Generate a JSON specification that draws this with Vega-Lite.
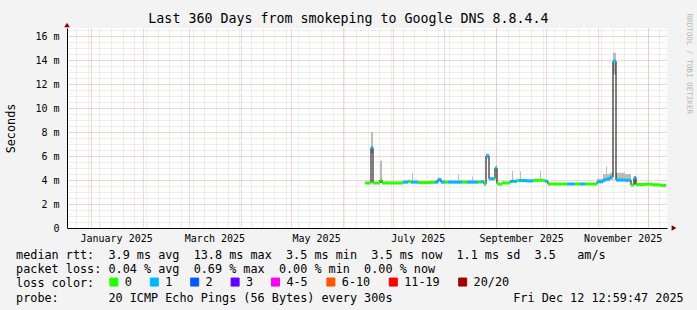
{
  "$schema": "https://vega.github.io/schema/vega-lite/v6.json",
  "width": 600,
  "height": 200,
  "autosize": {"type": "none"},
  "padding": {"left": 67, "top": 28, "right": 30, "bottom": 82},
  "background": "#f3f3f3",
  "config": {
    "view": {"fill": "#ffffff", "stroke": null},
    "font": "DejaVu Sans Mono",
    "axis": {"labelFont": "DejaVu Sans Mono", "titleFont": "DejaVu Sans Mono", "labelColor": "#000000", "titleColor": "#000000", "titleFontWeight": "normal"}
  },
  "title": {
    "text": "Last 360 Days from smokeping to Google DNS 8.8.4.4",
    "font": "DejaVu Sans Mono",
    "fontSize": 13.3,
    "fontWeight": "normal",
    "color": "#000000",
    "anchor": "middle",
    "frame": "group",
    "baseline": "alphabetic",
    "dx": -18.5,
    "offset": -23
  },
  "data": {
    "values": [
      {"t": "2025-06-14T08:12", "t2": "2025-06-17T22:36", "med": 3.75, "lo": 3.70, "hi": 3.85, "loss": "0"},
      {"t": "2025-06-17T22:36", "t2": "2025-06-19T03:24", "med": 6.70, "lo": 6.20, "hi": 8.00, "loss": "1"},
      {"t": "2025-06-19T03:24", "t2": "2025-06-23T08:12", "med": 3.75, "lo": 3.70, "hi": 3.85, "loss": "0"},
      {"t": "2025-06-23T08:12", "t2": "2025-06-24T13:00", "med": 4.00, "lo": 3.80, "hi": 5.60, "loss": "0"},
      {"t": "2025-06-24T13:00", "t2": "2025-07-07T03:24", "med": 3.75, "lo": 3.70, "hi": 3.85, "loss": "0"},
      {"t": "2025-07-07T03:24", "t2": "2025-07-10T03:24", "med": 3.82, "lo": 3.75, "hi": 3.95, "loss": "1"},
      {"t": "2025-07-10T03:24", "t2": "2025-07-11T22:36", "med": 3.88, "lo": 3.78, "hi": 3.95, "loss": "0"},
      {"t": "2025-07-11T22:36", "t2": "2025-07-12T13:00", "med": 3.82, "lo": 3.75, "hi": 3.95, "loss": "1"},
      {"t": "2025-07-12T13:00", "t2": "2025-07-13T03:24", "med": 3.82, "lo": 3.75, "hi": 4.60, "loss": "1"},
      {"t": "2025-07-13T03:24", "t2": "2025-07-16T03:24", "med": 3.82, "lo": 3.75, "hi": 3.95, "loss": "1"},
      {"t": "2025-07-16T03:24", "t2": "2025-07-23T08:12", "med": 3.78, "lo": 3.70, "hi": 3.90, "loss": "0"},
      {"t": "2025-07-23T08:12", "t2": "2025-07-26T08:12", "med": 3.80, "lo": 3.72, "hi": 3.90, "loss": "0"},
      {"t": "2025-07-26T08:12", "t2": "2025-07-28T03:24", "med": 3.82, "lo": 3.75, "hi": 3.95, "loss": "1"},
      {"t": "2025-07-28T03:24", "t2": "2025-07-29T22:36", "med": 4.05, "lo": 3.85, "hi": 4.15, "loss": "1"},
      {"t": "2025-07-29T22:36", "t2": "2025-08-01T08:12", "med": 3.82, "lo": 3.75, "hi": 3.95, "loss": "1"},
      {"t": "2025-08-01T08:12", "t2": "2025-08-03T03:24", "med": 3.82, "lo": 3.75, "hi": 3.95, "loss": "0"},
      {"t": "2025-08-03T03:24", "t2": "2025-08-09T03:24", "med": 3.82, "lo": 3.75, "hi": 3.95, "loss": "1"},
      {"t": "2025-08-09T03:24", "t2": "2025-08-09T17:48", "med": 3.82, "lo": 3.75, "hi": 4.50, "loss": "1"},
      {"t": "2025-08-09T17:48", "t2": "2025-08-11T13:00", "med": 3.82, "lo": 3.75, "hi": 3.95, "loss": "1"},
      {"t": "2025-08-11T13:00", "t2": "2025-08-14T13:00", "med": 3.82, "lo": 3.75, "hi": 3.95, "loss": "0"},
      {"t": "2025-08-14T13:00", "t2": "2025-08-17T13:00", "med": 3.82, "lo": 3.75, "hi": 3.95, "loss": "1"},
      {"t": "2025-08-17T13:00", "t2": "2025-08-18T03:24", "med": 3.82, "lo": 3.75, "hi": 4.30, "loss": "1"},
      {"t": "2025-08-18T03:24", "t2": "2025-08-21T03:24", "med": 3.82, "lo": 3.75, "hi": 3.95, "loss": "1"},
      {"t": "2025-08-21T03:24", "t2": "2025-08-22T22:36", "med": 3.82, "lo": 3.75, "hi": 3.95, "loss": "0"},
      {"t": "2025-08-22T22:36", "t2": "2025-08-24T17:48", "med": 3.85, "lo": 3.78, "hi": 3.95, "loss": "1"},
      {"t": "2025-08-24T17:48", "t2": "2025-08-25T22:36", "med": 3.65, "lo": 3.60, "hi": 3.75, "loss": "0"},
      {"t": "2025-08-25T22:36", "t2": "2025-08-27T17:48", "med": 6.00, "lo": 5.80, "hi": 6.20, "loss": "1"},
      {"t": "2025-08-27T17:48", "t2": "2025-08-30T17:48", "med": 4.10, "lo": 4.00, "hi": 4.20, "loss": "1"},
      {"t": "2025-08-30T17:48", "t2": "2025-08-31T08:12", "med": 4.10, "lo": 4.00, "hi": 4.20, "loss": "0"},
      {"t": "2025-08-31T08:12", "t2": "2025-09-01T13:00", "med": 5.00, "lo": 4.80, "hi": 5.10, "loss": "1"},
      {"t": "2025-09-01T13:00", "t2": "2025-09-02T17:48", "med": 3.72, "lo": 3.65, "hi": 3.80, "loss": "0"},
      {"t": "2025-09-02T17:48", "t2": "2025-09-04T13:00", "med": 3.65, "lo": 3.60, "hi": 3.75, "loss": "0"},
      {"t": "2025-09-04T13:00", "t2": "2025-09-09T08:12", "med": 3.75, "lo": 3.70, "hi": 3.85, "loss": "0"},
      {"t": "2025-09-09T08:12", "t2": "2025-09-10T13:00", "med": 3.88, "lo": 3.80, "hi": 4.00, "loss": "1"},
      {"t": "2025-09-10T13:00", "t2": "2025-09-11T03:24", "med": 3.90, "lo": 3.80, "hi": 4.75, "loss": "1"},
      {"t": "2025-09-11T03:24", "t2": "2025-09-13T13:00", "med": 3.90, "lo": 3.80, "hi": 4.00, "loss": "1"},
      {"t": "2025-09-13T13:00", "t2": "2025-09-14T17:48", "med": 3.95, "lo": 3.85, "hi": 4.05, "loss": "0"},
      {"t": "2025-09-14T17:48", "t2": "2025-09-15T08:12", "med": 3.95, "lo": 3.85, "hi": 4.05, "loss": "1"},
      {"t": "2025-09-15T08:12", "t2": "2025-09-15T22:36", "med": 3.95, "lo": 3.85, "hi": 4.70, "loss": "1"},
      {"t": "2025-09-15T22:36", "t2": "2025-09-19T13:00", "med": 3.95, "lo": 3.85, "hi": 4.05, "loss": "1"},
      {"t": "2025-09-19T13:00", "t2": "2025-09-23T03:24", "med": 3.92, "lo": 3.85, "hi": 4.05, "loss": "1"},
      {"t": "2025-09-23T03:24", "t2": "2025-09-27T08:12", "med": 3.97, "lo": 3.90, "hi": 4.05, "loss": "0"},
      {"t": "2025-09-27T08:12", "t2": "2025-09-27T22:36", "med": 3.97, "lo": 3.90, "hi": 4.80, "loss": "0"},
      {"t": "2025-09-27T22:36", "t2": "2025-09-30T08:12", "med": 3.97, "lo": 3.90, "hi": 4.05, "loss": "0"},
      {"t": "2025-09-30T08:12", "t2": "2025-10-02T03:24", "med": 3.90, "lo": 3.82, "hi": 4.00, "loss": "1"},
      {"t": "2025-10-02T03:24", "t2": "2025-10-13T13:00", "med": 3.67, "lo": 3.62, "hi": 3.75, "loss": "0"},
      {"t": "2025-10-13T13:00", "t2": "2025-10-18T08:12", "med": 3.67, "lo": 3.62, "hi": 3.75, "loss": "1"},
      {"t": "2025-10-18T08:12", "t2": "2025-10-21T08:12", "med": 3.67, "lo": 3.62, "hi": 3.75, "loss": "0"},
      {"t": "2025-10-21T08:12", "t2": "2025-10-24T08:12", "med": 3.67, "lo": 3.62, "hi": 3.75, "loss": "1"},
      {"t": "2025-10-24T08:12", "t2": "2025-10-31T13:00", "med": 3.67, "lo": 3.62, "hi": 3.75, "loss": "0"},
      {"t": "2025-10-31T13:00", "t2": "2025-11-04T03:24", "med": 3.85, "lo": 3.75, "hi": 4.10, "loss": "1"},
      {"t": "2025-11-04T03:24", "t2": "2025-11-05T22:36", "med": 4.00, "lo": 3.85, "hi": 4.50, "loss": "1"},
      {"t": "2025-11-05T22:36", "t2": "2025-11-06T13:00", "med": 4.05, "lo": 3.90, "hi": 5.10, "loss": "1"},
      {"t": "2025-11-06T13:00", "t2": "2025-11-08T08:12", "med": 4.10, "lo": 3.90, "hi": 4.50, "loss": "1"},
      {"t": "2025-11-08T08:12", "t2": "2025-11-10T03:24", "med": 4.25, "lo": 4.00, "hi": 4.60, "loss": "1"},
      {"t": "2025-11-10T03:24", "t2": "2025-11-11T22:36", "med": 13.90, "lo": 12.80, "hi": 14.60, "loss": "1"},
      {"t": "2025-11-11T22:36", "t2": "2025-11-17T08:12", "med": 4.00, "lo": 3.90, "hi": 4.60, "loss": "1"},
      {"t": "2025-11-17T08:12", "t2": "2025-11-20T22:36", "med": 3.98, "lo": 3.85, "hi": 4.50, "loss": "1"},
      {"t": "2025-11-20T22:36", "t2": "2025-11-22T17:48", "med": 3.58, "lo": 3.50, "hi": 3.70, "loss": "0"},
      {"t": "2025-11-22T17:48", "t2": "2025-11-23T22:36", "med": 4.20, "lo": 3.60, "hi": 4.30, "loss": "1"},
      {"t": "2025-11-23T22:36", "t2": "2025-11-29T08:12", "med": 3.62, "lo": 3.55, "hi": 3.70, "loss": "0"},
      {"t": "2025-11-29T08:12", "t2": "2025-12-03T13:00", "med": 3.65, "lo": 3.58, "hi": 3.72, "loss": "0"},
      {"t": "2025-12-03T13:00", "t2": "2025-12-08T08:12", "med": 3.60, "lo": 3.55, "hi": 3.68, "loss": "0"},
      {"t": "2025-12-08T08:12", "t2": "2025-12-11T22:36", "med": 3.55, "lo": 3.50, "hi": 3.62, "loss": "0"},
      {"t": "2025-12-11T22:36", "t2": "2025-12-11T22:36", "med": 3.55, "lo": 3.50, "hi": 3.62, "loss": "0"}
    ]
  },
  "layer": [
    {
      "mark": {"type": "area", "interpolate": "step-after", "color": "#bcbcbc", "opacity": 1},
      "encoding": {
        "x": {
          "field": "t", "type": "temporal",
          "scale": {"domain": [{"year": 2024, "month": 12, "date": 17, "hours": 12, "minutes": 59, "seconds": 47}, {"year": 2025, "month": 12, "date": 12, "hours": 12, "minutes": 59, "seconds": 47}], "nice": false},
          "axis": {
            "orient": "bottom", "grid": true, "gridColor": "#dcdcdc", "gridDash": [1, 1], "gridWidth": 1,
            "labels": false, "ticks": false, "domain": false, "title": null,
            "values": [
              {"year": 2024, "month": 12, "date": 23}, {"year": 2024, "month": 12, "date": 30},
              {"year": 2025, "month": 1, "date": 6}, {"year": 2025, "month": 1, "date": 13}, {"year": 2025, "month": 1, "date": 20}, {"year": 2025, "month": 1, "date": 27},
              {"year": 2025, "month": 2, "date": 3}, {"year": 2025, "month": 2, "date": 10}, {"year": 2025, "month": 2, "date": 17}, {"year": 2025, "month": 2, "date": 24},
              {"year": 2025, "month": 3, "date": 3}, {"year": 2025, "month": 3, "date": 10}, {"year": 2025, "month": 3, "date": 17}, {"year": 2025, "month": 3, "date": 24}, {"year": 2025, "month": 3, "date": 31},
              {"year": 2025, "month": 4, "date": 7}, {"year": 2025, "month": 4, "date": 14}, {"year": 2025, "month": 4, "date": 21}, {"year": 2025, "month": 4, "date": 28},
              {"year": 2025, "month": 5, "date": 5}, {"year": 2025, "month": 5, "date": 12}, {"year": 2025, "month": 5, "date": 19}, {"year": 2025, "month": 5, "date": 26},
              {"year": 2025, "month": 6, "date": 2}, {"year": 2025, "month": 6, "date": 9}, {"year": 2025, "month": 6, "date": 16}, {"year": 2025, "month": 6, "date": 23}, {"year": 2025, "month": 6, "date": 30},
              {"year": 2025, "month": 7, "date": 7}, {"year": 2025, "month": 7, "date": 14}, {"year": 2025, "month": 7, "date": 21}, {"year": 2025, "month": 7, "date": 28},
              {"year": 2025, "month": 8, "date": 4}, {"year": 2025, "month": 8, "date": 11}, {"year": 2025, "month": 8, "date": 18}, {"year": 2025, "month": 8, "date": 25},
              {"year": 2025, "month": 9, "date": 1}, {"year": 2025, "month": 9, "date": 8}, {"year": 2025, "month": 9, "date": 15}, {"year": 2025, "month": 9, "date": 22}, {"year": 2025, "month": 9, "date": 29},
              {"year": 2025, "month": 10, "date": 6}, {"year": 2025, "month": 10, "date": 13}, {"year": 2025, "month": 10, "date": 20}, {"year": 2025, "month": 10, "date": 27},
              {"year": 2025, "month": 11, "date": 3}, {"year": 2025, "month": 11, "date": 10}, {"year": 2025, "month": 11, "date": 17}, {"year": 2025, "month": 11, "date": 24},
              {"year": 2025, "month": 12, "date": 1}, {"year": 2025, "month": 12, "date": 8}
            ]
          }
        },
        "y": {
          "field": "lo", "type": "quantitative",
          "scale": {"domain": [0, 16.6667], "nice": false, "zero": true},
          "axis": {
            "orient": "left", "grid": true, "gridColor": "#dcdcdc", "gridDash": [1, 1], "gridWidth": 1,
            "labels": false, "ticks": false, "domain": false, "title": null,
            "values": [0.5, 1, 1.5, 2.5, 3, 3.5, 4.5, 5, 5.5, 6.5, 7, 7.5, 8.5, 9, 9.5, 10.5, 11, 11.5, 12.5, 13, 13.5, 14.5, 15, 15.5, 16.5]
          }
        },
        "y2": {"field": "hi"}
      }
    },
    {
      "mark": {"type": "line", "interpolate": "step-after", "color": "#000000", "strokeWidth": 1},
      "encoding": {
        "x": {
          "field": "t", "type": "temporal",
          "scale": {"domain": [{"year": 2024, "month": 12, "date": 17, "hours": 12, "minutes": 59, "seconds": 47}, {"year": 2025, "month": 12, "date": 12, "hours": 12, "minutes": 59, "seconds": 47}], "nice": false},
          "axis": {
            "orient": "bottom", "grid": true, "gridColor": "#eba8a8", "gridDash": [1, 1], "gridWidth": 1,
            "labels": false, "ticks": false, "domain": false, "title": null,
            "values": [
              {"year": 2025, "month": 1, "date": 1}, {"year": 2025, "month": 2, "date": 1}, {"year": 2025, "month": 3, "date": 1}, {"year": 2025, "month": 4, "date": 1},
              {"year": 2025, "month": 5, "date": 1}, {"year": 2025, "month": 6, "date": 1}, {"year": 2025, "month": 7, "date": 1}, {"year": 2025, "month": 8, "date": 1},
              {"year": 2025, "month": 9, "date": 1}, {"year": 2025, "month": 10, "date": 1}, {"year": 2025, "month": 11, "date": 1}, {"year": 2025, "month": 12, "date": 1}
            ]
          }
        },
        "y": {
          "field": "med", "type": "quantitative",
          "scale": {"domain": [0, 16.6667], "nice": false, "zero": true},
          "axis": {
            "orient": "left", "grid": true, "gridColor": "#eba8a8", "gridDash": [1, 1], "gridWidth": 1,
            "values": [0, 2, 4, 6, 8, 10, 12, 14, 16],
            "labelExpr": "datum.value == 0 ? '0\u00a0\u00a0' : datum.value + ' m'",
            "labelFontSize": 10, "labelPadding": 8, "labelFlush": false, "labelOverlap": false,
            "ticks": false, "domain": true, "domainColor": "#000000", "domainWidth": 1,
            "title": "Seconds", "titleFontSize": 11.8, "titleFontWeight": "normal",
            "titleX": -57, "titleY": 100, "titleAngle": 270, "titleAlign": "center", "titleBaseline": "middle"
          }
        }
      }
    },
    {
      "mark": {"type": "rule", "strokeWidth": 3},
      "encoding": {
        "x": {
          "field": "t", "type": "temporal",
          "scale": {"domain": [{"year": 2024, "month": 12, "date": 17, "hours": 12, "minutes": 59, "seconds": 47}, {"year": 2025, "month": 12, "date": 12, "hours": 12, "minutes": 59, "seconds": 47}], "nice": false},
          "axis": {
            "orient": "bottom", "grid": false, "ticks": false, "tickSize": 0,
            "domain": true, "domainColor": "#000000", "domainWidth": 1,
            "values": [
              {"year": 2025, "month": 1, "date": 16}, {"year": 2025, "month": 3, "date": 16}, {"year": 2025, "month": 5, "date": 16},
              {"year": 2025, "month": 7, "date": 16}, {"year": 2025, "month": 9, "date": 16}, {"year": 2025, "month": 11, "date": 16}
            ],
            "format": "%B %Y", "formatType": "time",
            "labelFontSize": 10, "labelPadding": 5, "labelFlush": false, "labelOverlap": false,
            "title": [
              "median rtt:\u00a0\u00a03.9 ms avg\u00a0\u00a013.8 ms max\u00a0\u00a03.5 ms min\u00a0\u00a03.5 ms now\u00a0\u00a01.1 ms sd\u00a0\u00a03.5\u00a0\u00a0\u00a0am/s",
              "packet loss: 0.04 % avg\u00a0\u00a00.69 % max\u00a0\u00a00.00 % min\u00a0\u00a00.00 % now",
              "loss color:",
              "probe:\u00a0\u00a0\u00a0\u00a0\u00a0\u00a0\u00a020 ICMP Echo Pings (56 Bytes) every 300s\u00a0\u00a0\u00a0\u00a0\u00a0\u00a0\u00a0\u00a0\u00a0\u00a0\u00a0\u00a0\u00a0\u00a0\u00a0\u00a0\u00a0Fri Dec 12 12:59:47 2025"
            ],
            "titleFontSize": 11.8, "titleFontWeight": "normal", "titleLineHeight": 14.15,
            "titleX": -51.4, "titleY": 30.7, "titleAlign": "left", "titleAnchor": "start", "titleBaseline": "alphabetic"
          }
        },
        "x2": {"field": "t2"},
        "y": {
          "field": "med", "type": "quantitative",
          "scale": {"domain": [0, 16.6667], "nice": false, "zero": true},
          "axis": {
            "orient": "right", "grid": false, "labels": false, "ticks": false, "domain": false,
            "title": "RRDTOOL / TOBI OETIKER", "titleFontSize": 7.6, "titleFontWeight": "normal", "titleColor": "#b8b8b8",
            "titleX": 21, "titleY": -15, "titleAngle": 90, "titleAlign": "left", "titleBaseline": "middle"
          }
        },
        "color": {
          "field": "loss", "type": "nominal",
          "scale": {
            "domain": ["0", "1", "2", "3", "4-5", "6-10", "11-19", "20/20"],
            "range": ["#26ff00", "#00b8ff", "#0059ff", "#5e00ff", "#ff00f4", "#ff5400", "#ff0000", "#a10000"]
          },
          "legend": {
            "orient": "none", "legendX": 41, "legendY": 248, "direction": "horizontal", "columns": 8,
            "title": null, "padding": 0, "offset": 0,
            "labelFont": "DejaVu Sans Mono", "labelFontSize": 11.8, "labelColor": "#000000", "labelOffset": 5,
            "columnPadding": 15.4, "symbolType": "square", "symbolSize": 64,
            "symbolStrokeColor": "#000000", "symbolStrokeWidth": 1,
            "encode": {"symbols": {"update": {"shape": {"value": "square"}, "fill": {"scale": "color", "field": "value"}, "stroke": {"value": "#000000"}, "strokeWidth": {"value": 1}, "size": {"value": 64}, "opacity": {"value": 1}}}}
          }
        }
      }
    },
    {
      "data": {"values": [{}]},
      "mark": {"type": "point", "shape": "triangle-right", "filled": true, "color": "#7f0000", "opacity": 1, "size": 30, "xOffset": 7},
      "encoding": {
        "x": {"datum": {"year": 2025, "month": 12, "date": 12, "hours": 12, "minutes": 59, "seconds": 47}, "type": "temporal", "axis": null,
              "scale": {"domain": [{"year": 2024, "month": 12, "date": 17, "hours": 12, "minutes": 59, "seconds": 47}, {"year": 2025, "month": 12, "date": 12, "hours": 12, "minutes": 59, "seconds": 47}], "nice": false}},
        "y": {"datum": 0, "type": "quantitative", "axis": null, "scale": {"domain": [0, 16.6667], "nice": false, "zero": true}}
      }
    },
    {
      "data": {"values": [{}]},
      "mark": {"type": "point", "shape": "triangle-up", "filled": true, "color": "#7f0000", "opacity": 1, "size": 30, "yOffset": -3},
      "encoding": {
        "x": {"datum": {"year": 2024, "month": 12, "date": 17, "hours": 12, "minutes": 59, "seconds": 47}, "type": "temporal", "axis": null,
              "scale": {"domain": [{"year": 2024, "month": 12, "date": 17, "hours": 12, "minutes": 59, "seconds": 47}, {"year": 2025, "month": 12, "date": 12, "hours": 12, "minutes": 59, "seconds": 47}], "nice": false}},
        "y": {"datum": 16.6667, "type": "quantitative", "axis": null, "scale": {"domain": [0, 16.6667], "nice": false, "zero": true}}
      }
    }
  ],
  "resolve": {"axis": {"x": "independent", "y": "independent"}}
}
